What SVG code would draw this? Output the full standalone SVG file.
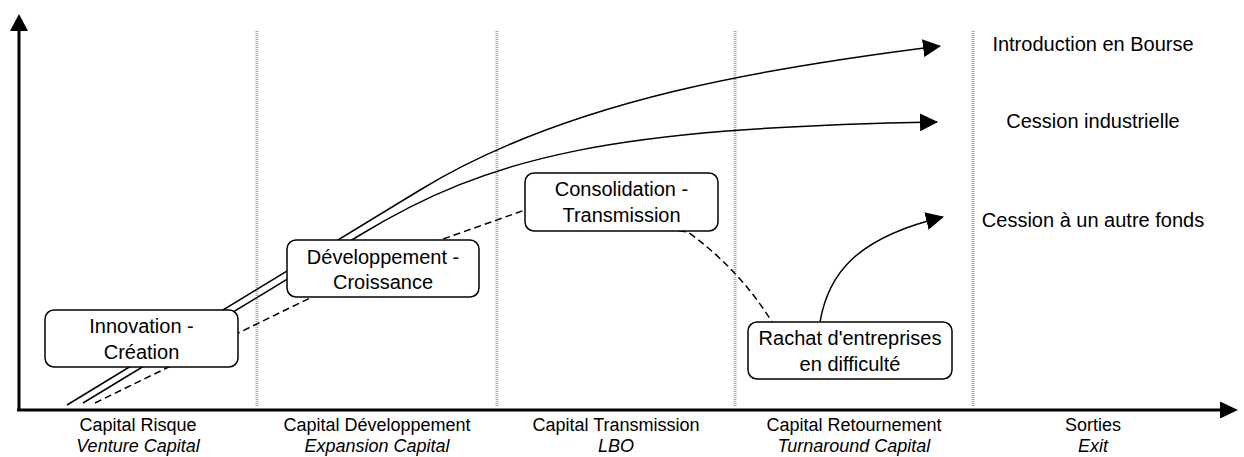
<svg xmlns="http://www.w3.org/2000/svg" width="1244" height="457" viewBox="0 0 1244 457">
<style>
text{font-family:"Liberation Sans",Arial,sans-serif;fill:#000;}
.lbl{font-size:18px;text-anchor:middle;}
.it{font-style:italic;}
.out{font-size:20px;text-anchor:middle;}
.box rect{fill:#fff;stroke:#000;stroke-width:1.5;}
.box text{font-size:20px;text-anchor:middle;}
.grid line{stroke:#a8a8a8;stroke-width:3;stroke-dasharray:1 1;}
.conn path{fill:none;stroke:#000;stroke-width:1.5;}
.conn .dash{stroke-dasharray:7 4;}
</style>
<defs>
<marker id="ah" markerUnits="userSpaceOnUse" markerWidth="18" markerHeight="18" viewBox="0 0 18 18" refX="17" refY="9" orient="auto">
<path d="M0,0 L18,9 L0,18 z" fill="#000"/>
</marker>
</defs>
<rect width="1244" height="457" fill="#fff"/>
<g id="grid" class="grid">
<line x1="257" y1="31" x2="257" y2="407"/>
<line x1="497" y1="31" x2="497" y2="407"/>
<line x1="735" y1="31" x2="735" y2="407"/>
<line x1="973" y1="31" x2="973" y2="407"/>
</g>
<g id="axes">
<line x1="19" y1="411" x2="19" y2="30" stroke="#000" stroke-width="3"/>
<polygon points="10,31 28,31 19,14" fill="#000"/>
<line x1="17" y1="410" x2="1221" y2="410" stroke="#000" stroke-width="3"/>
<polygon points="1220,401.5 1220,418.5 1238,410" fill="#000"/>
</g>
<g id="connectors" class="conn">
<path d="M67,405 L420,190 C570,98.5 772,67 940,46" marker-end="url(#ah)"/>
<path d="M83,403 L360,235 C490,156 610,128 937,122" marker-end="url(#ah)"/>
<path class="dash" d="M95,403 L310,298 L443,239 L525,210 L688,232 Q740,270 772,322"/>
<path d="M820,322 C828,275 855,238 943,217" marker-end="url(#ah)"/>
</g>
<g id="node-innovation" class="box">
<rect x="45" y="310" width="193" height="57" rx="9"/>
<text x="141.5" y="333">Innovation -</text>
<text x="141.5" y="358.5">Création</text>
</g>
<g id="node-developpement" class="box">
<rect x="287" y="240" width="192" height="57" rx="9"/>
<text x="383" y="263.5">Développement -</text>
<text x="383" y="288.5">Croissance</text>
</g>
<g id="node-consolidation" class="box">
<rect x="525" y="173" width="193" height="58" rx="9"/>
<text x="621.5" y="196">Consolidation -</text>
<text x="621.5" y="221.5">Transmission</text>
</g>
<g id="node-rachat" class="box">
<rect x="748" y="322" width="204" height="57" rx="9"/>
<text x="850" y="345">Rachat d'entreprises</text>
<text x="850" y="370.5">en difficulté</text>
</g>
<g id="exit-labels">
<text class="out" x="1093" y="51">Introduction en Bourse</text>
<text class="out" x="1093" y="128">Cession industrielle</text>
<text class="out" x="1093" y="227">Cession à un autre fonds</text>
</g>
<g id="axis-labels">
<text class="lbl" x="138" y="431">Capital Risque</text>
<text class="lbl it" x="138" y="452">Venture Capital</text>
<text class="lbl" x="377" y="431">Capital Développement</text>
<text class="lbl it" x="377" y="452">Expansion Capital</text>
<text class="lbl" x="616" y="431">Capital Transmission</text>
<text class="lbl it" x="616" y="452">LBO</text>
<text class="lbl" x="854" y="431">Capital Retournement</text>
<text class="lbl it" x="854" y="452">Turnaround Capital</text>
<text class="lbl" x="1093" y="431">Sorties</text>
<text class="lbl it" x="1093" y="452">Exit</text>
</g>
</svg>
